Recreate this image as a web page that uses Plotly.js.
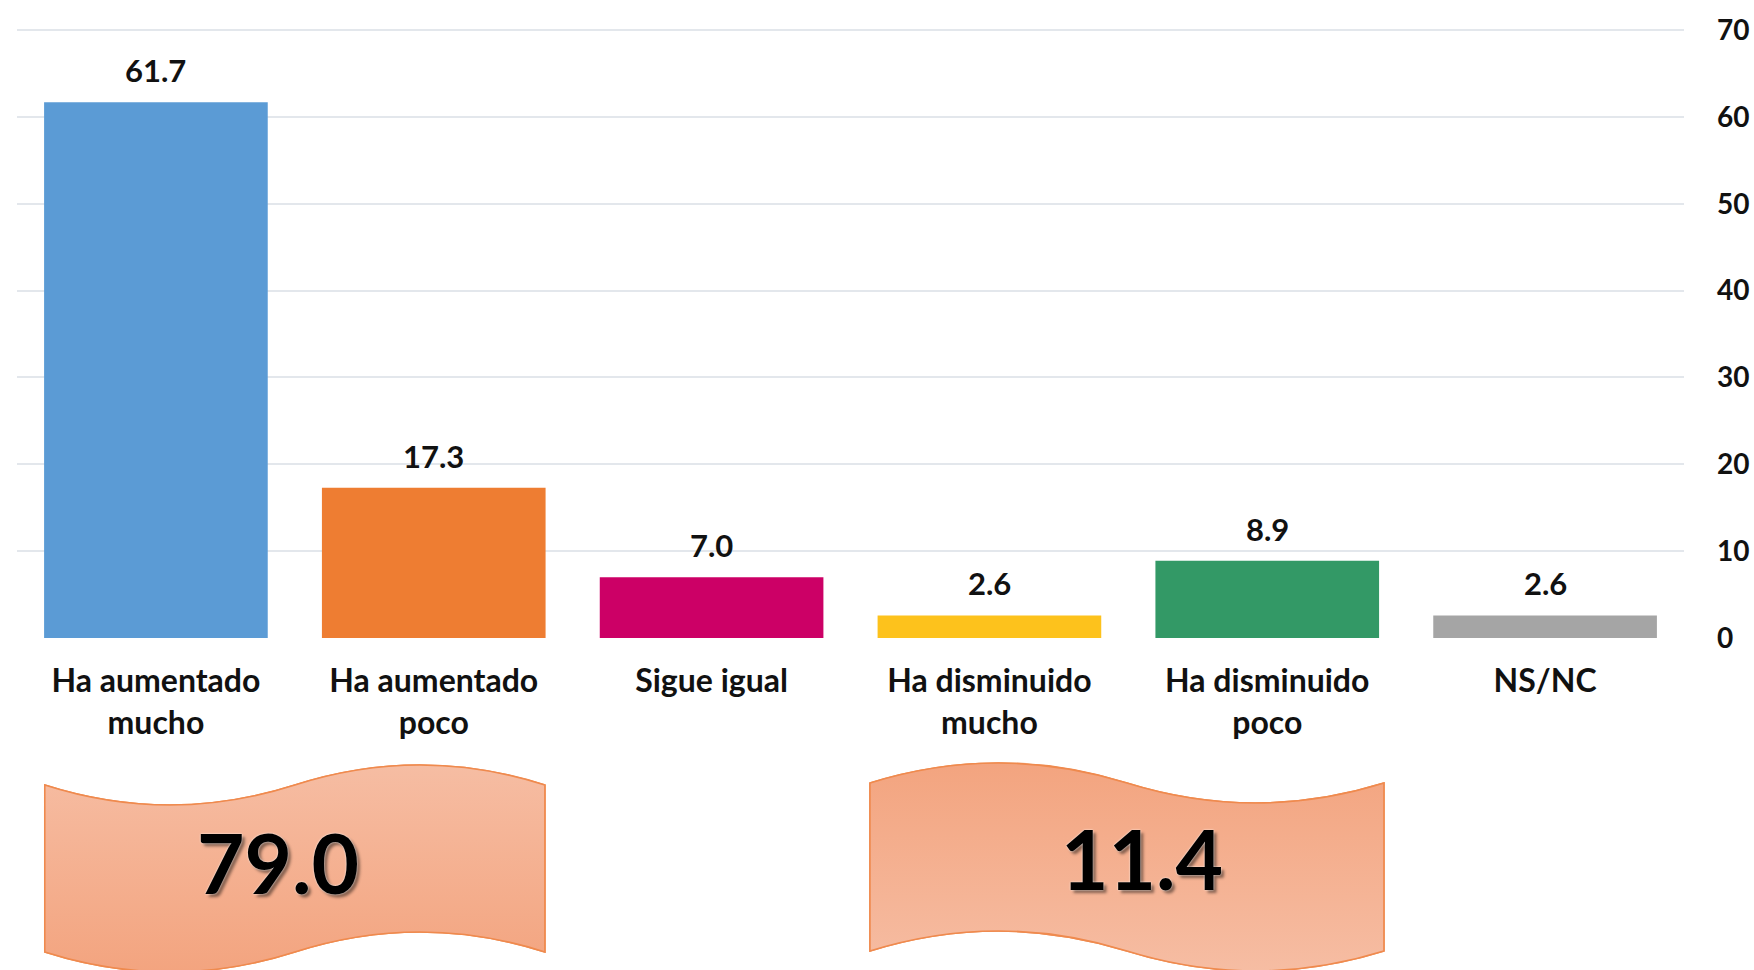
<!DOCTYPE html>
<html>
<head>
<meta charset="utf-8">
<script src="https://cdn.plot.ly/plotly-3.0.1.min.js"></script>
<style>
  html, body { margin: 0; padding: 0; background: #fff; }
  #chart { width: 1754px; height: 970px; }
</style>
</head>
<body>
<div id="chart"></div>
<script>
// ---- Data ----
const categories = ["Ha aumentado mucho", "Ha aumentado poco", "Sigue igual", "Ha disminuido mucho", "Ha disminuido poco", "NS/NC"];
const tickLabels = ["Ha aumentado<br>mucho", "Ha aumentado<br>poco", "Sigue igual", "Ha disminuido<br>mucho", "Ha disminuido<br>poco", "NS/NC"];
const values = [61.7, 17.3, 7.0, 2.6, 8.9, 2.6];
const groupTotals = ["79.0", "11.4"];
const yTicks = [0, 10, 20, 30, 40, 50, 60, 70];

// ---- Styling ----
const barColors = ["#5B9BD5", "#EE7D32", "#CC0066", "#FDC21C", "#339966", "#A5A5A5"];
const FONT = "Lato, 'Open Sans', sans-serif";
const W = 1754, H = 970, PL = 17, PR = 70, PT = 29, PB = 332;
const plotW = W - PL - PR, plotH = H - PT - PB;
const nCat = categories.length;
const catPx = i => PL + (i + 0.5) * plotW / nCat;
const pX = x => (x - PL) / plotW;
const pY = y => (H - PB - y) / plotH;

// double-wave callout outline, in pixel space
function wavePts(x0, x1, top, bot, amp, dir) {
  const w = x1 - x0, a = amp * 4 / 3 * dir;
  return [
    ["M", [x0, top]],
    ["C", [x0 + w / 6, top + a], [x0 + w / 3, top + a], [x0 + w / 2, top]],
    ["C", [x0 + 2 * w / 3, top - a], [x0 + 5 * w / 6, top - a], [x1, top]],
    ["L", [x1, bot]],
    ["C", [x0 + 5 * w / 6, bot - a], [x0 + 2 * w / 3, bot - a], [x0 + w / 2, bot]],
    ["C", [x0 + w / 3, bot + a], [x0 + w / 6, bot + a], [x0, bot]]
  ];
}
function toPath(pts, fx, fy) {
  return pts.map(seg => seg[0] + seg.slice(1).map(p => fx(p[0]).toFixed(4) + "," + fy(p[1]).toFixed(4)).join(" ")).join(" ") + " Z";
}

const waves = [
  { pts: wavePts(catPx(-0.4), catPx(1.4), 785, 952, 20, 1), c1: "#F6BDA3", c2: "#F3A47F" },
  { pts: wavePts(catPx(2.57), catPx(4.42), 783, 951, 20, -1), c1: "#F3A47F", c2: "#F6BDA3" }
];

// fallback solid shapes (below) + gradient overlay image (above)
const shapes = waves.map(w => ({
  type: "path", xref: "paper", yref: "paper", layer: "below",
  path: toPath(w.pts, pX, pY),
  fillcolor: "#F5B193", line: { color: "#EF8A4E", width: 1.5 }
}));

let svg = '<svg xmlns="http://www.w3.org/2000/svg" width="' + W + '" height="' + H + '" viewBox="0 0 ' + W + ' ' + H + '"><defs>';
waves.forEach((w, k) => {
  svg += '<linearGradient id="g' + k + '" x1="0" y1="0" x2="0" y2="1"><stop offset="0" stop-color="' + w.c1 + '"/><stop offset="1" stop-color="' + w.c2 + '"/></linearGradient>';
});
svg += '</defs>';
waves.forEach((w, k) => {
  svg += '<path d="' + toPath(w.pts, x => x, y => y) + '" fill="url(#g' + k + ')" stroke="#EF8A4E" stroke-width="1.6"/>';
});
svg += '</svg>';

const images = [{
  source: "data:image/svg+xml;charset=utf-8," + encodeURIComponent(svg),
  xref: "paper", yref: "paper",
  x: -PL / plotW, y: 1 + PT / plotH,
  sizex: W / plotW, sizey: H / plotH,
  sizing: "stretch", xanchor: "left", yanchor: "top", layer: "above"
}];

const annotations = values.map((v, i) => ({
  x: categories[i], y: v, xref: "x", yref: "y",
  text: v.toFixed(1), showarrow: false, yanchor: "bottom", yshift: 11,
  font: { family: FONT, size: 31, color: "#111", weight: "bold" }
}));

const bigFont = { family: FONT, size: 82, color: "#000", weight: "bold",
                  shadow: "0px 0px 2px #fff, 3px 3px 3px rgba(0,0,0,0.45)" };
annotations.push(
  { xref: "paper", yref: "paper", x: pX(catPx(0.44)), y: pY(862), text: groupTotals[0],
    showarrow: false, xanchor: "center", yanchor: "middle", font: bigFont },
  { xref: "paper", yref: "paper", x: pX(catPx(3.55)), y: pY(858), text: groupTotals[1],
    showarrow: false, xanchor: "center", yanchor: "middle", font: bigFont }
);

const trace = {
  type: "bar",
  x: categories,
  y: values,
  marker: { color: barColors, line: { width: 0 } },
  hoverinfo: "x+y"
};

const layout = {
  width: W, height: H,
  margin: { l: PL, r: PR, t: PT, b: PB, pad: 0 },
  paper_bgcolor: "#ffffff",
  plot_bgcolor: "#ffffff",
  showlegend: false,
  bargap: 0.195,
  xaxis: {
    type: "category",
    tickmode: "array", tickvals: categories, ticktext: tickLabels,
    ticks: "", showline: false, showgrid: false, zeroline: false,
    ticklabelstandoff: 21,
    tickfont: { family: FONT, size: 32, color: "#111", weight: "bold" }
  },
  yaxis: {
    side: "right", range: [0, 70.12], tickmode: "array", tickvals: yTicks,
    ticktext: yTicks.map(String),
    showgrid: true, gridcolor: "#E3E7EC", gridwidth: 2,
    zeroline: false, showline: false, ticks: "",
    ticklabelstandoff: 32,
    tickfont: { family: FONT, size: 28, color: "#111", weight: "bold" }
  },
  shapes: shapes,
  images: images,
  annotations: annotations
};

Plotly.newPlot("chart", [trace], layout, { displayModeBar: false, staticPlot: true });
</script>
</body>
</html>
